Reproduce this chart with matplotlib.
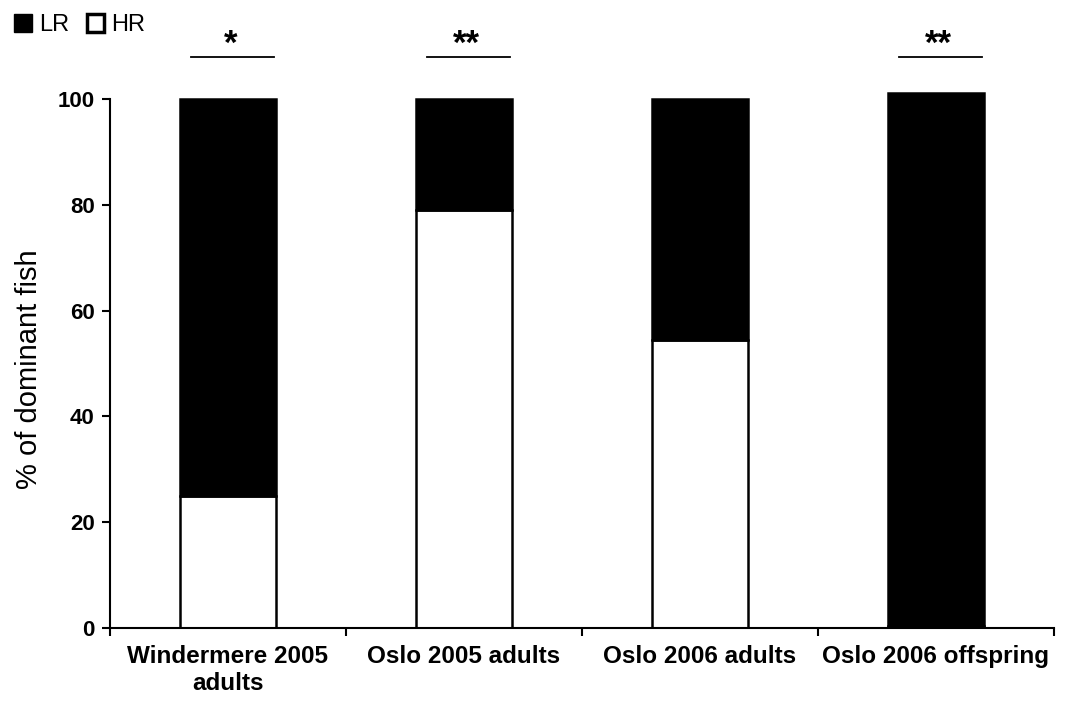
import matplotlib
matplotlib.use('Agg')
import matplotlib.pyplot as plt
from matplotlib.patches import Patch
import numpy as np

plt.rcParams['font.family'] = ['Liberation Sans', 'DejaVu Sans']

# data
groups = ['Windermere 2005\nadults', 'Oslo 2005 adults', 'Oslo 2006 adults', 'Oslo 2006 offspring']
hr = [25, 79, 54.5, 0.4]
lr = [75, 21, 45.5, 100.8]
signif = ['*', '**', '', '**']
yticks = [0, 20, 40, 60, 80, 100]

fig = plt.figure(figsize=(10.7, 7.16), dpi=100)
ax = fig.add_axes([0.1028, 0.1229, 0.8822, 0.7388])

x = np.arange(len(groups))
width = 0.41
ax.bar(x, hr, width, color='white', edgecolor='black', linewidth=1.8, label='HR')
ax.bar(x, lr, width, bottom=hr, color='black', edgecolor='black', linewidth=1.8, label='LR',
       clip_on=False)

ax.set_xlim(-0.5, 3.5)
ax.set_ylim(0, 100)
ax.set_yticks(yticks)
ax.set_yticklabels([str(t) for t in yticks], fontweight='bold', fontsize=16)
ax.set_xticks(x)
ax.set_xticklabels(groups, fontweight='bold', fontsize=17.5, linespacing=1.25)
ax.tick_params(axis='x', which='major', length=0, pad=12)
ax.set_xticks(np.arange(-0.5, 4, 1), minor=True)
ax.tick_params(axis='x', which='minor', length=6, width=1.5, direction='out')
ax.tick_params(axis='y', length=6, width=1.5, direction='out', pad=5)
for s in ['top', 'right']:
    ax.spines[s].set_visible(False)
for s in ['left', 'bottom']:
    ax.spines[s].set_linewidth(1.5)

ax.set_ylabel('% of dominant fish', fontsize=21)
ax.yaxis.set_label_coords(-0.071, 0.49)

# significance marks above the bars
for xi, s in zip(x, signif):
    if not s:
        continue
    ax.plot([xi - 0.157, xi + 0.195], [108, 108], color='black', lw=1.3, clip_on=False)
    ax.text(xi + 0.01, 108.5, s, ha='center', va='baseline', fontsize=25, fontweight='bold',
            clip_on=False)

handles = [Patch(facecolor='black', edgecolor='black', label='LR'),
           Patch(facecolor='white', edgecolor='black', linewidth=2.5, label='HR')]
fig.legend(handles=handles, loc='upper left', bbox_to_anchor=(0.0, 1.0), ncol=2,
           frameon=False, handlelength=0.75, handleheight=0.75, handletextpad=0.3,
           columnspacing=0.75, fontsize=17, borderaxespad=0.2)

fig.savefig('out.png', dpi=100)
